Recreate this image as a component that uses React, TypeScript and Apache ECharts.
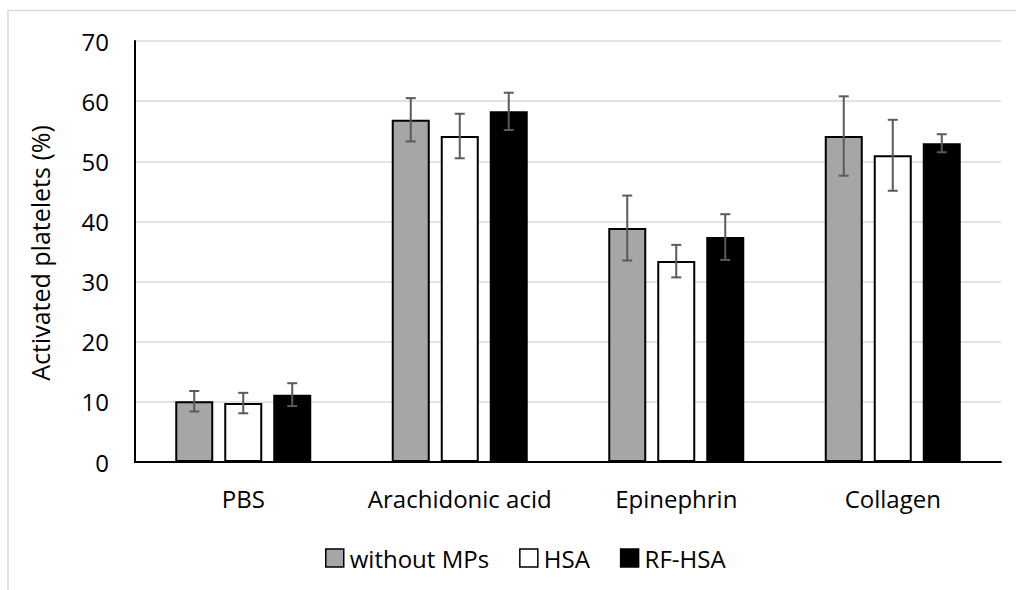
import React, { useEffect, useRef } from "react";
import * as echarts from "echarts";

const categories = ["PBS", "Arachidonic acid", "Epinephrin", "Collagen"];
const seriesNames = ["without MPs", "HSA", "RF-HSA"];
const withoutMPs = [10.1, 56.9, 38.9, 54.2];
const hsa = [9.8, 54.2, 33.4, 51.0];
const rfHsa = [11.2, 58.3, 37.4, 53.0];
const errWithoutMPs = [1.7, 3.6, 5.4, 6.6];
const errHsa = [1.7, 3.7, 2.7, 5.9];
const errRfHsa = [1.9, 3.1, 3.8, 1.5];
const yTicks = [0, 10, 20, 30, 40, 50, 60, 70];

const FONT = "'Open Sans', sans-serif";
const BAR_W = 38;
const BAR_GAP_PX = 11;
const fills = ["#a6a6a6", "#ffffff", "#000000"];

export default function App() {
  const ref = useRef<HTMLDivElement>(null);
  useEffect(() => {
    if (!ref.current) return;
    const chart = echarts.init(ref.current, null, { renderer: "svg" });
    const values = [withoutMPs, hsa, rfHsa];
    const errs = [errWithoutMPs, errHsa, errRfHsa];

    const barSeries = values.map((v, i) => ({
      name: seriesNames[i],
      type: "bar",
      data: v,
      barWidth: BAR_W,
      barGap: (BAR_GAP_PX / BAR_W) * 100 + "%",
      itemStyle: { color: fills[i], borderColor: "#000", borderWidth: 2 },
      z: 2,
    }));

    const errSeries = errs.map((e, i) => ({
      name: seriesNames[i] + " err",
      type: "custom",
      z: 5,
      data: e.map((err, k) => [k, values[i][k], err]),
      renderItem: (params: any, api: any) => {
        const k = api.value(0);
        const v = api.value(1);
        const err = api.value(2);
        const off = (i - 1) * (BAR_W + BAR_GAP_PX);
        const top = api.coord([k, v + err]);
        const bot = api.coord([k, v - err]);
        const x = top[0] + off;
        const cap = 5;
        const style = { stroke: "#5a5a5a", lineWidth: 2 };
        return {
          type: "group",
          children: [
            { type: "line", shape: { x1: x, y1: top[1], x2: x, y2: bot[1] }, style },
            { type: "line", shape: { x1: x - cap, y1: top[1], x2: x + cap, y2: top[1] }, style },
            { type: "line", shape: { x1: x - cap, y1: bot[1], x2: x + cap, y2: bot[1] }, style },
          ],
        };
      },
    }));

    chart.setOption({
      animation: false,
      textStyle: { fontFamily: FONT },
      grid: { left: 135, right: 15, top: 41, bottom: 128, containLabel: false },
      legend: {
        data: seriesNames.map((n) => ({ name: n, icon: "rect" })),
        left: 320,
        top: 541,
        itemWidth: 18,
        itemHeight: 18,
        itemGap: 30,
        textStyle: { fontFamily: FONT, fontSize: 24, color: "#000", padding: [0, 0, 0, 1] },
        itemStyle: { borderColor: "#000", borderWidth: 1.5 },
      },
      xAxis: {
        type: "category",
        data: categories,
        axisLine: { lineStyle: { color: "#000", width: 2 } },
        axisTick: { show: false },
        axisLabel: { fontFamily: FONT, fontSize: 24, color: "#000", margin: 24, interval: 0 },
      },
      yAxis: {
        type: "value",
        min: yTicks[0],
        max: yTicks[yTicks.length - 1],
        interval: 10,
        axisLine: { show: true, lineStyle: { color: "#000", width: 2 } },
        axisTick: { show: false },
        axisLabel: { fontFamily: FONT, fontSize: 24, color: "#000", margin: 26 },
        splitLine: { lineStyle: { color: "#d9d9d9", width: 1.5 } },
      },
      graphic: [
        { type: "line", shape: { x1: 8, y1: 10.5, x2: 1016, y2: 10.5 }, style: { stroke: "#d9d9d9", lineWidth: 1.5 } },
        { type: "line", shape: { x1: 8, y1: 10, x2: 8, y2: 590 }, style: { stroke: "#d9d9d9", lineWidth: 1.5 } },
        {
          type: "text",
          x: 40,
          y: 253,
          rotation: Math.PI / 2,
          style: {
            text: "Activated platelets (%)",
            fontFamily: FONT,
            fontSize: 25,
            fill: "#000",
            textAlign: "center",
            textVerticalAlign: "middle",
          },
        },
      ],
      series: [...barSeries, ...errSeries],
    });
    return () => chart.dispose();
  }, []);
  return (
    <div
      ref={ref}
      style={{ position: "fixed", left: 0, top: 0, width: 1016, height: 590, background: "#fff" }}
    />
  );
}
